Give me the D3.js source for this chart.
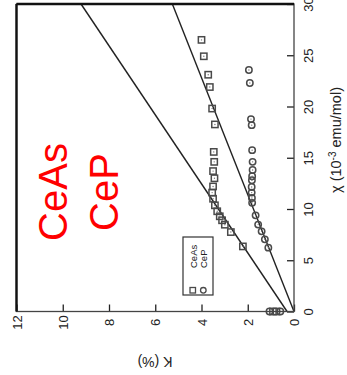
<!DOCTYPE html>
<html><head><meta charset="utf-8">
<script src="https://cdn.jsdelivr.net/npm/d3@7"></script>
<style>body{margin:0;background:#fff}svg{display:block}</style>
</head><body>
<script>
// Knight shift K (%) against susceptibility chi (1e-3 emu/mol), figure turned a quarter turn
const kTicks = [0, 2, 4, 6, 8, 10, 12];
const chiTicks = [0, 5, 10, 15, 20, 25, 30];

const ceAsChi = [26.5, 24.9, 23.1, 21.9, 19.8, 18.25, 15.57, 14.6, 13.7, 13.0, 12.2, 11.6, 11.0, 10.36, 9.78, 9.29, 8.9, 8.47, 7.75, 6.35, 0, 0];
const ceAsK   = [4.00, 3.90, 3.71, 3.64, 3.54, 3.42, 3.47, 3.45, 3.50, 3.44, 3.50, 3.54, 3.50, 3.42, 3.32, 3.21, 3.11, 2.99, 2.73, 2.21, 0.91, 0.76];

const cePChi = [23.56, 22.3, 18.77, 18.18, 15.74, 14.6, 13.8, 13.2, 12.8, 12.15, 11.6, 11.07, 10.6, 9.38, 8.48, 7.82, 7.04, 6.23, 0, 0];
const cePK   = [1.95, 1.91, 1.86, 1.83, 1.81, 1.79, 1.79, 1.81, 1.82, 1.83, 1.83, 1.82, 1.81, 1.66, 1.55, 1.40, 1.26, 1.11, 1.06, 0.59];

// straight-line fits, given by their end points
const ceAsFitChi = [0, 30];
const ceAsFitK   = [0.3, 9.21];
const cePFitChi  = [0, 30];
const cePFitK    = [0.0, 5.26];

const legendLabels = ["CeAs", "CeP"];
const bannerLabels = ["CeAs", "CeP"];

const W = 347, H = 375;
const svg = d3.select("body").append("svg").attr("width", W).attr("height", H)
  .style("font-family", "'Liberation Sans', Arial, Helvetica, sans-serif");

const x = d3.scaleLinear().domain([0, 12]).range([294, 16.5]);   // K, horizontal
const y = d3.scaleLinear().domain([0, 30]).range([311.5, 4]);    // chi, vertical

const ink = "#222";

// fit lines
const line = d3.line().x(d => x(d[1])).y(d => y(d[0]));
svg.append("path").datum(d3.zip(ceAsFitChi, ceAsFitK)).attr("d", line)
  .attr("fill", "none").attr("stroke", ink).attr("stroke-width", 1.4);
svg.append("path").datum(d3.zip(cePFitChi, cePFitK)).attr("d", line)
  .attr("fill", "none").attr("stroke", ink).attr("stroke-width", 1.4);

const markStroke = "#4a4a4a";
function squares(g, xs, ys, s) {
  const pts = d3.zip(xs, ys);
  g.selectAll(null).data(pts).join("rect")
    .attr("x", d => x(d[1]) - s / 2).attr("y", d => y(d[0]) - s / 2)
    .attr("width", s).attr("height", s)
    .attr("fill", "none").attr("stroke", markStroke).attr("stroke-width", 1.5);
  g.selectAll(null).data(pts).join("circle")
    .attr("cx", d => x(d[1])).attr("cy", d => y(d[0])).attr("r", 0.7).attr("fill", "#777");
}
function circles(g, xs, ys, r) {
  const pts = d3.zip(xs, ys);
  g.selectAll(null).data(pts).join("circle")
    .attr("cx", d => x(d[1])).attr("cy", d => y(d[0])).attr("r", r)
    .attr("fill", "none").attr("stroke", markStroke).attr("stroke-width", 1.5);
  g.selectAll(null).data(pts).join("circle")
    .attr("cx", d => x(d[1])).attr("cy", d => y(d[0])).attr("r", 0.7).attr("fill", "#777");
}
squares(svg.append("g"), ceAsChi, ceAsK, 6.3);
circles(svg.append("g"), cePChi, cePK, 3.2);

// axes with inward ticks and labels turned a quarter turn
const fontSize = 13;
const ax = svg.append("g").attr("transform", "translate(0,311.5)")
  .call(d3.axisBottom(x).tickValues(kTicks).tickSize(-7).tickFormat(d3.format("d")));
ax.select(".domain").remove();
ax.selectAll("line").attr("stroke", ink).attr("stroke-width", 1.3);
ax.selectAll("text").attr("x", 0).attr("y", 0).attr("dy", null)
  .attr("transform", "translate(4.6,11) rotate(-90)")
  .attr("text-anchor", "middle").attr("fill", ink).style("font-size", fontSize + "px");

const ay = svg.append("g").attr("transform", "translate(294,0)")
  .call(d3.axisRight(y).tickValues(chiTicks).tickSize(-7).tickFormat(d3.format("d")));
ay.select(".domain").remove();
ay.selectAll("line").attr("stroke", ink).attr("stroke-width", 1.3);
ay.selectAll("text").attr("x", 0).attr("y", 0).attr("dy", null)
  .attr("transform", "translate(19,0) rotate(-90)")
  .attr("text-anchor", "middle").attr("fill", ink).style("font-size", fontSize + "px");

// frame
svg.append("rect").attr("x", x(12)).attr("y", y(30))
  .attr("width", x(0) - x(12)).attr("height", y(0) - y(30))
  .attr("fill", "none").attr("stroke", "#444").attr("stroke-width", 1.3);
svg.append("line").attr("x1", x(12)).attr("x2", x(12)).attr("y1", y(30)).attr("y2", y(0))
  .attr("stroke", "#111").attr("stroke-width", 2.4);
svg.append("line").attr("x1", x(12)).attr("x2", x(0)).attr("y1", y(30)).attr("y2", y(30))
  .attr("stroke", "#111").attr("stroke-width", 2.4);

// axis titles
const tx = svg.append("text").attr("transform", "translate(341,140) rotate(-90)")
  .attr("text-anchor", "middle").attr("fill", ink).style("font-size", "14.5px");
tx.append("tspan").text("χ (10");
tx.append("tspan").attr("baseline-shift", "super").style("font-size", "10px").text("-3");
tx.append("tspan").text(" emu/mol)");

svg.append("text").attr("transform", "translate(155,357) rotate(180)")
  .attr("text-anchor", "middle").attr("fill", ink).style("font-size", "14px").text("K (%)");

// legend
const lg = svg.append("g");
lg.append("rect").attr("x", 183).attr("y", 237).attr("width", 30).attr("height", 58)
  .attr("fill", "#fff").attr("stroke", "#333").attr("stroke-width", 1.2);
lg.append("rect").attr("x", 190).attr("y", 287.5).attr("width", 5.5).attr("height", 5.5)
  .attr("fill", "none").attr("stroke", markStroke).attr("stroke-width", 1.3);
lg.append("circle").attr("cx", 203.3).attr("cy", 290.3).attr("r", 2.8)
  .attr("fill", "none").attr("stroke", markStroke).attr("stroke-width", 1.3);
lg.selectAll(null).data(legendLabels).join("text")
  .attr("transform", (d, i) => `translate(${196.5 + i * 10.6},268) rotate(-90)`)
  .attr("fill", ink).style("font-size", "9.5px").text(d => d);

// red compound names
svg.selectAll(null).data(bannerLabels).join("text")
  .attr("transform", (d, i) => `translate(${67 + i * 51},192) rotate(-90)`)
  .attr("text-anchor", "middle").attr("fill", "#ff0000")
  .style("font-size", "40px").text(d => d);
</script>
</body></html>
